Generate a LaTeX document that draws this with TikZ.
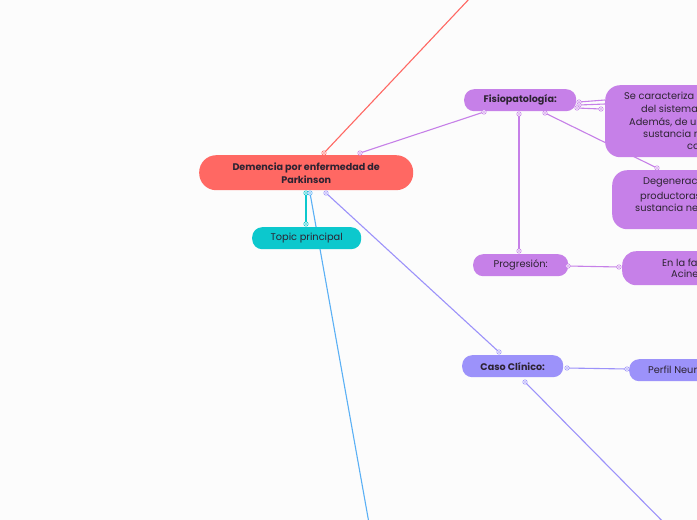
\documentclass[tikz,border=0pt]{standalone}
\usepackage{fontspec}
\setmainfont{Poppins}
\definecolor{bgc}{RGB}{252,252,252}
\definecolor{redc}{RGB}{255,104,99}
\definecolor{cyanc}{RGB}{12,200,205}
\definecolor{bluec}{RGB}{90,176,245}
\definecolor{purc}{RGB}{198,128,232}
\definecolor{lavc}{RGB}{156,146,250}
\definecolor{txtc}{RGB}{45,35,50}
\begin{document}
\begin{tikzpicture}[x=1pt,y=-1pt,
  pill/.style={anchor=north west, inner sep=0pt, text=txtc, align=center, font=\fontsize{9.8}{13}\selectfont},
  bpill/.style={pill, font=\bfseries\fontsize{9.6}{13}\selectfont},
  bigbox/.style={anchor=north west, inner sep=0pt, rounded corners=15pt},
  btxt/.style={anchor=base west, inner sep=0pt, text=txtc, font=\fontsize{9.8}{12}\selectfont},
  conn/.style={line width=1.1pt},
  port/.style={line width=0.6pt, fill=white}]
\useasboundingbox (0,0) rectangle (697,520);
\fill[bgc] (0,0) rectangle (697,520);
\clip (0,0) rectangle (697,520);

% port coordinates
\coordinate (mT1) at (324,153);
\coordinate (mT2) at (360,153);
\coordinate (mB1) at (306,193);
\coordinate (mB2) at (310,193);
\coordinate (mB3) at (326,193);
\coordinate (tT) at (306,224);
\coordinate (fBL) at (484,112);
\coordinate (fB) at (519,114);
\coordinate (fBR) at (545,113);
\coordinate (fR1) at (579,102);
\coordinate (fR2) at (579,105);
\coordinate (fR3) at (577,108);
\coordinate (sL1) at (605,100);
\coordinate (sL2) at (605,104);
\coordinate (sL3) at (601,109);
\coordinate (dT) at (657,168);
\coordinate (pT) at (519,251);
\coordinate (pR) at (568,266);
\coordinate (eL) at (619,267);
\coordinate (cT) at (499,352);
\coordinate (cR) at (567,368);
\coordinate (cB) at (525,382);
\coordinate (nL) at (627,369);
\coordinate (redEnd) at (487,-20);
\coordinate (blueEnd) at (372,540);
\coordinate (lavEnd) at (681,540);

% connectors
\draw[conn, redc] (mT1) -- (redEnd);
\draw[conn, purc] (mT2) -- (fBL);
\draw[conn, cyanc] (mB1) -- (tT);
\draw[conn, bluec] (mB2) -- (blueEnd);
\draw[conn, lavc] (mB3) -- (cT);
\draw[conn, purc] (fB) -- (pT);
\draw[conn, purc] (fBR) -- (dT);
\draw[conn, purc] (fR1) -- (sL1);
\draw[conn, purc] (fR2) -- (sL2);
\draw[conn, purc] (fR3) -- (sL3);
\draw[conn, purc] (pR) -- (eL);
\draw[conn, lavc] (cR) -- (nL);
\draw[conn, lavc] (cB) -- (lavEnd);

% nodes
\node[bpill, fill=redc, minimum width=214pt, minimum height=35pt, rounded corners=17pt] (main) at (199,155) {Demencia por enfermedad de\\Parkinson};
\node[pill, fill=cyanc, minimum width=109pt, minimum height=22pt, rounded corners=10pt] (topic) at (252,227) {Topic principal};
\node[bpill, fill=purc, minimum width=112pt, minimum height=22pt, rounded corners=10pt] (fisio) at (464,89) {Fisiopatología:};
\node[pill, fill=purc, minimum width=95pt, minimum height=22pt, rounded corners=10pt] (prog) at (473,254) {Progresión:};
\node[bpill, fill=lavc, minimum width=101pt, minimum height=22pt, rounded corners=10pt] (caso) at (462,355) {Caso Clínico:};

\node[bigbox, fill=purc, minimum width=160pt, minimum height=72pt] (se) at (605,85) {};
\node[bigbox, fill=purc, minimum width=150pt, minimum height=59pt] (deg) at (612,170) {};
\node[bigbox, fill=purc, minimum width=140pt, minimum height=34pt, rounded corners=14pt] (enla) at (622,251) {};
\node[bigbox, fill=lavc, minimum width=120pt, minimum height=22pt, rounded corners=10pt] (perfil) at (629,359) {};

% clipped texts
\node[btxt] (se1) at (624,99) {Se caracteriza};
\node[btxt] (se2) at (641,112) {del sistema};
\node[btxt] (se3) at (629,125) {Además, de u};
\node[btxt] (se4) at (643,137) {sustancia n};
\node[btxt] (se5) at (687,149) {co};
\node[btxt] (dg1) at (643,184) {Degenerac};
\node[btxt] (dg2) at (640,199) {productoras};
\node[btxt] (dg3) at (635,211) {sustancia ne};
\node[btxt] (en1) at (662,266) {En la fa};
\node[btxt] (en2) at (671,277) {Acine};
\node[btxt] (pf1) at (648,373) {Perfil Neur};

% ports
\foreach \p/\c in {mT1/redc, mT2/purc, mB1/cyanc, mB2/bluec, mB3/lavc, tT/cyanc, fBL/purc, fB/purc, fBR/purc, fR1/purc, fR2/purc, fR3/purc, sL3/purc, dT/purc, pT/purc, pR/purc, eL/purc, cT/lavc, cR/lavc, cB/lavc, nL/lavc}
  {\draw[port, draw=\c] (\p) circle (2.2pt); \fill[\c] (\p) circle (0.8pt);}
\end{tikzpicture}
\end{document}
